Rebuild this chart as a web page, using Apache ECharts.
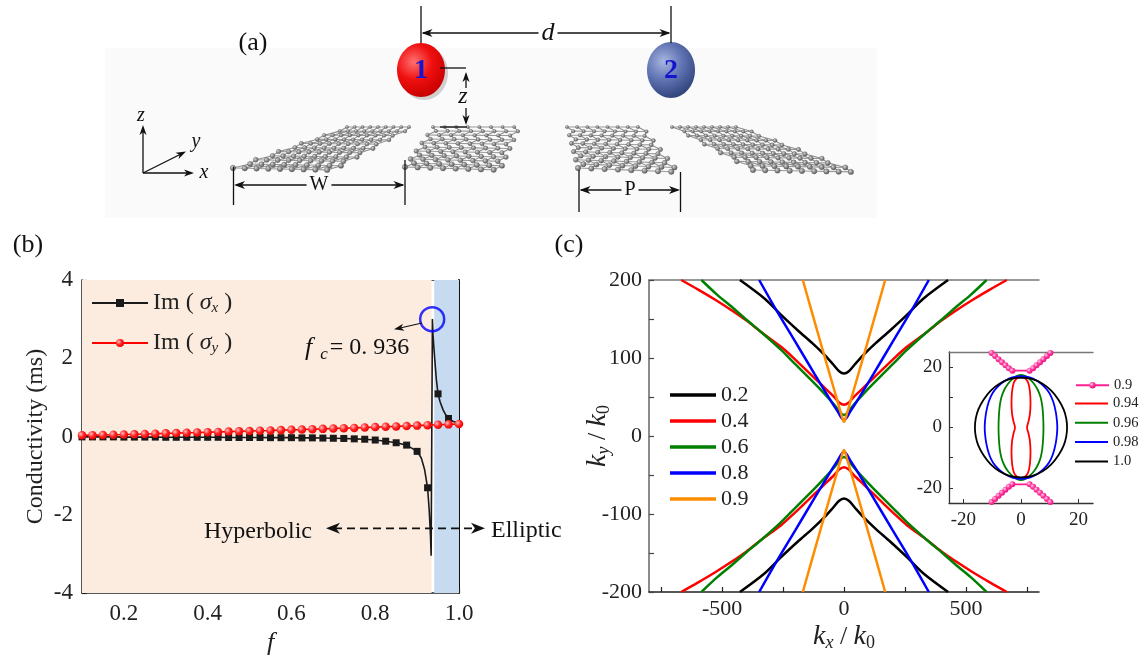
<!DOCTYPE html>
<html>
<head>
<meta charset="utf-8">
<title>石墨烯条带 电导率与等频线</title>
<script src="https://cdn.jsdelivr.net/npm/echarts@6/dist/echarts.min.js"></script>
<style>
html, body { margin: 0; padding: 0; background: #fff; }
#main { width: 1144px; height: 661px; }
</style>
</head>
<body>
<div id="main"></div>
<script>
var SERIF = "'Liberation Serif', 'Times New Roman', serif";

// ---------- (b) 电导率 vs f ----------
var fGrid = [0.1, 0.125, 0.15, 0.175, 0.2, 0.225, 0.25, 0.275, 0.3, 0.325, 0.35, 0.375, 0.4, 0.425, 0.45, 0.475,
             0.5, 0.525, 0.55, 0.575, 0.6, 0.625, 0.65, 0.675, 0.7, 0.725, 0.75, 0.775, 0.8, 0.825, 0.85, 0.875,
             0.9, 0.925, 0.95, 0.975, 1.0];
var sigmaY = [0.03, 0.035, 0.04, 0.045, 0.05, 0.058, 0.065, 0.072, 0.08, 0.087, 0.095, 0.102, 0.11, 0.118, 0.125, 0.133,
              0.14, 0.148, 0.155, 0.163, 0.17, 0.178, 0.187, 0.195, 0.205, 0.213, 0.22, 0.23, 0.24, 0.25, 0.258, 0.268,
              0.278, 0.29, 0.3, 0.31, 0.32];
// 有方块标记的点
var sigmaXMarked = [[0.1, -0.01], [0.125, -0.01], [0.15, -0.01], [0.175, -0.01], [0.2, -0.015], [0.225, -0.015],
                    [0.25, -0.015], [0.275, -0.015], [0.3, -0.02], [0.325, -0.02], [0.35, -0.02], [0.375, -0.02],
                    [0.4, -0.02], [0.425, -0.02], [0.45, -0.025], [0.475, -0.025], [0.5, -0.025], [0.525, -0.025],
                    [0.55, -0.03], [0.575, -0.03], [0.6, -0.03], [0.625, -0.035], [0.65, -0.035], [0.675, -0.04],
                    [0.7, -0.045], [0.725, -0.05], [0.75, -0.06], [0.775, -0.07], [0.8, -0.09], [0.825, -0.12],
                    [0.85, -0.16], [0.875, -0.22], [0.9, -0.38], [0.925, -1.31], [0.95, 1.09], [0.975, 0.46]];
// 只有曲线、没有标记的点（共振附近）
var sigmaXCurve = [[0.91, -0.55], [0.918, -0.85], [0.929, -1.9], [0.932, -2.55], [0.9335, -3.05], [0.9365, 3.0],
                   [0.938, 2.6], [0.9405, 2.2], [0.943, 1.85], [0.946, 1.45], [0.955, 0.88], [0.962, 0.68],
                   [0.968, 0.56], [0.985, 0.39], [1.0, 0.34]];
var fcPoint = [0.936, 3.0];
var bXLabels = [0.2, 0.4, 0.6, 0.8, 1.0];
var bXTicks = [0.2, 0.3, 0.4, 0.5, 0.6, 0.7, 0.8, 0.9, 1.0];
var bYLabels = [-4, -2, 0, 2, 4];
var bYTicks = [-4, -3, -2, -1, 0, 1, 2, 3, 4];

// ---------- (c) 等频线 ky/k0 vs kx/k0 (上半支右半边) ----------
var curveNames = ['0.2', '0.4', '0.6', '0.8', '0.9'];
var curveColors = ['#000000', '#ff0000', '#008000', '#0000ff', '#ff8c00'];
var kx02 = [0, 20, 45, 80, 130, 188, 257, 325, 427];
var ky02 = [80, 83, 92, 104, 119, 135, 155, 176, 200];
var kx04 = [0, 20, 40, 80, 120, 200, 257, 339, 400, 460, 530, 600, 668];
var ky04 = [40, 43, 50, 62, 74, 98, 114, 133, 148, 161, 175, 188, 200];
var kx06 = [0, 15, 40, 80, 120, 200, 257, 339, 400, 462, 520, 585];
var ky06 = [27, 30, 40, 54, 67, 92, 110, 133, 149, 166, 181, 200];
var kx08 = [0, 12, 25, 50, 120, 200, 277, 348];
var ky08 = [20, 24, 31, 43, 79, 121, 161, 200];
var kx09 = [0, 6, 15, 40, 100, 169];
var ky09 = [18, 22, 32, 59, 124, 200];
var cXLabels = [-500, 0, 500];
var cXTicks = [-750, -500, -250, 0, 250, 500, 750];
var cYLabels = [-200, -100, 0, 100, 200];
var cYTicks = [-200, -150, -100, -50, 0, 50, 100, 150, 200];

// ---------- 插图 ----------
var insetNames = ['0.9', '0.94', '0.96', '0.98', '1.0'];
var insetColors = ['#ff2090', '#ff0000', '#008000', '#0000ff', '#000000'];
var ikx90 = [3, 4.2, 5.4, 6.6, 7.8, 9, 10.2, 11.4];
var iky90 = [18.8, 19.6, 20.6, 21.6, 22.6, 23.7, 24.7, 25.8];
// 四分之一轮廓：从顶点 (0, top) 到 (xmax, 0)
var ikx94 = [0, 1.4, 2.5, 3.1, 3.3, 3.1, 2.6, 2.1];
var iky94 = [16.8, 16.3, 14.8, 12, 8, 4.5, 2, 0];
var ikx96 = [0, 1.5, 3, 4.5, 5.8, 6.8, 7.4, 7.7, 7.8];
var iky96 = [17.4, 17, 16, 14.5, 12.5, 10, 7, 3.5, 0];
var ikx98 = [0, 3, 5.5, 7.8, 9.8, 11.2, 12.1, 12.5, 12.6];
var iky98 = [17, 16.6, 15.5, 13.8, 11.5, 8.5, 5, 2, 0];
var ikx10 = [0, 4, 7.5, 10.5, 13, 14.8, 15.7, 16];
var iky10 = [16.5, 16, 14.5, 12.2, 9.2, 6, 3, 0];
var iTicks = [-20, -10, 0, 10, 20];
var iLabels = [-20, 0, 20];

// 对称：由右半边得到整条支
function branch(xs, ys, sign) {
    var out = [];
    var start = xs[0] === 0 ? 1 : 0;
    for (var i = xs.length - 1; i >= start; i--) out.push([-xs[i], sign * ys[i]]);
    for (var j = 0; j < xs.length; j++) out.push([xs[j], sign * ys[j]]);
    return out;
}
// 由四分之一轮廓得到闭合曲线
function loop(xs, ys) {
    var pts = [], n = xs.length, i;
    for (i = 0; i < n; i++) pts.push([xs[i], ys[i]]);
    for (i = n - 2; i >= 0; i--) pts.push([xs[i], -ys[i]]);
    for (i = 1; i < n; i++) pts.push([-xs[i], -ys[i]]);
    for (i = n - 2; i >= 0; i--) pts.push([-xs[i], ys[i]]);
    return pts;
}

var chart = echarts.init(document.getElementById('main'));

function ballGradient(light, mid, dark) {
    return new echarts.graphic.RadialGradient(0.35, 0.35, 0.75, [
        { offset: 0, color: light }, { offset: 0.5, color: mid }, { offset: 1, color: dark }
    ]);
}

// σx 数据：带标记和不带标记的点合并
var sigmaXData = [];
sigmaXMarked.forEach(function (p) { sigmaXData.push({ value: p }); });
sigmaXCurve.forEach(function (p) { sigmaXData.push({ value: p, symbol: 'none' }); });
sigmaXData.sort(function (a, b) { return a.value[0] - b.value[0]; });

var sigmaYData = fGrid.map(function (f, i) { return [f, sigmaY[i]]; });

function valueAxis(o) {
    return Object.assign({
        type: 'value',
        nameMoveOverlap: false,
        splitLine: { show: false },
        axisLine: { show: true, onZero: false, lineStyle: { color: '#222', width: 1.5 } },
        axisTick: { show: false },
        axisLabel: { show: false }
    }, o);
}

var series = [];

// (b) 背景色块
series.push({
    type: 'line', xAxisIndex: 0, yAxisIndex: 0, data: [[0.1, 0]], showSymbol: false, symbol: 'none', silent: true, z: 1,
    lineStyle: { width: 0, opacity: 0 },
    markArea: {
        silent: true,
        data: [
            [{ xAxis: 0.1, itemStyle: { color: '#fcebdf' } }, { xAxis: 0.9345 }],
            [{ xAxis: 0.9408, itemStyle: { color: '#c6dbf0' } }, { xAxis: 1.0 }]
        ]
    }
});
series.push({
    name: 'sx', type: 'line', xAxisIndex: 0, yAxisIndex: 0, data: sigmaXData, z: 3,
    symbol: 'rect', symbolSize: 7, itemStyle: { color: '#1a1a1a' },
    lineStyle: { color: '#1a1a1a', width: 1.6 }
});
series.push({
    name: 'sy', type: 'line', xAxisIndex: 0, yAxisIndex: 0, data: sigmaYData, z: 4,
    symbol: 'circle', symbolSize: 8.5,
    itemStyle: { color: ballGradient('#ffc0c0', '#ff2020', '#e00000') },
    lineStyle: { color: '#ff0000', width: 1.6 }
});
series.push({
    type: 'scatter', xAxisIndex: 0, yAxisIndex: 0, data: [fcPoint], z: 5, silent: true,
    symbol: 'circle', symbolSize: 24,
    itemStyle: { color: 'rgba(0,0,0,0)', borderColor: '#0000ff', borderWidth: 2.5 }
});

// (c) 主图曲线
var cData = [[kx02, ky02], [kx04, ky04], [kx06, ky06], [kx08, ky08], [kx09, ky09]];
cData.forEach(function (d, i) {
    [1, -1].forEach(function (s) {
        series.push({
            name: curveNames[i], type: 'line', xAxisIndex: 2, yAxisIndex: 2,
            data: branch(d[0], d[1], s), symbol: 'none', smooth: 0.3,
            lineStyle: { color: curveColors[i], width: 2.5 }, itemStyle: { color: curveColors[i] }
        });
    });
});

// 插图
[1, -1].forEach(function (s) {
    series.push({
        name: 'i0.9', type: 'line', xAxisIndex: 4, yAxisIndex: 3,
        data: branch(ikx90, iky90, s), symbol: 'circle', symbolSize: 6,
        lineStyle: { color: insetColors[0], width: 1.8 },
        itemStyle: { color: ballGradient('#ffd0e8', '#ff3399', '#e0107a') }
    });
});
var loops = [[ikx94, iky94], [ikx96, iky96], [ikx98, iky98], [ikx10, iky10]];
loops.forEach(function (d, i) {
    series.push({
        name: 'i' + insetNames[i + 1], type: 'line', xAxisIndex: 4, yAxisIndex: 3,
        data: loop(d[0], d[1]), symbol: 'none', smooth: 0.35,
        lineStyle: { color: insetColors[i + 1], width: 1.8 }, itemStyle: { color: insetColors[i + 1] }
    });
});

// ---------- graphic：(a) 示意图与注释 ----------
var g = [];
function gLine(x1, y1, x2, y2, st, z) {
    g.push({ type: 'line', z: z || 100, shape: { x1: x1, y1: y1, x2: x2, y2: y2 },
        style: Object.assign({ stroke: '#111', lineWidth: 1.3 }, st || {}) });
}
function gHead(x, y, ang, len, half) {
    var c = Math.cos(ang), s = Math.sin(ang);
    var bx = x - c * len, by = y - s * len;
    g.push({ type: 'polygon', z: 101, shape: { points: [
        [x, y], [bx - s * half, by + c * half], [x - c * len * 0.72, y - s * len * 0.72], [bx + s * half, by - c * half]
    ] }, style: { fill: '#111' } });
}
function gText(x, y, str, st, z) {
    g.push({ type: 'text', x: x, y: y, z: z || 102, style: Object.assign({
        text: str, fontFamily: SERIF, fontSize: 24, fill: '#111',
        align: 'center', verticalAlign: 'middle', textAlign: 'center', textVerticalAlign: 'middle'
    }, st || {}) });
}

// 面板标签
gText(253, 43, '(a)', { fontSize: 26 });
gText(28, 245, '(b)', { fontSize: 26 });
gText(569, 245, '(c)', { fontSize: 26 });

// (a) 背景
g.push({ type: 'rect', z: 10, shape: { x: 105, y: 48, width: 772, height: 170 }, style: { fill: '#fafafa' } });

// 石墨烯条带
function ribbon(FL, FR, BL, BR, nc, nr) {
    var pts = [], r, c;
    for (r = 0; r < nr; r++) {
        var v = r / (nr - 1), row = [];
        for (c = 0; c < nc; c++) {
            var u = (c + (r % 2) * 0.5) / (nc - 0.5);
            var fx = FL[0] + (FR[0] - FL[0]) * u, fy = FL[1] + (FR[1] - FL[1]) * u;
            var bx = BL[0] + (BR[0] - BL[0]) * u, by = BL[1] + (BR[1] - BL[1]) * u;
            row.push([fx + (bx - fx) * v, fy + (by - fy) * v, v]);
        }
        pts.push(row);
    }
    for (r = nr - 1; r >= 0; r--) {
        g.push({ type: 'polyline', z: 20, shape: { points: pts[r].map(function (p) { return [p[0], p[1]]; }) },
            style: { stroke: '#9a9a9a', lineWidth: 1.1, fill: null } });
    }
    for (c = 0; c < nc; c++) {
        var col = [];
        for (r = 0; r < nr; r++) col.push([pts[r][c][0], pts[r][c][1]]);
        g.push({ type: 'polyline', z: 20, shape: { points: col }, style: { stroke: '#8e8e8e', lineWidth: 1.1, fill: null } });
    }
    for (r = nr - 1; r >= 0; r--) {
        pts[r].forEach(function (p) {
            g.push({ type: 'circle', z: 21, shape: { cx: p[0], cy: p[1], r: 2.7 - 1.1 * p[2] },
                style: { fill: ballGradient('#d8d8d8', '#8a8a8a', '#4e4e4e'), stroke: '#555', lineWidth: 0.4 } });
        });
    }
}
ribbon([233, 168], [333, 170], [347, 127], [413, 127], 9, 11);
ribbon([405, 167], [500, 170], [433, 127], [520, 127], 8, 11);
ribbon([578, 168], [678, 172], [567, 127], [643, 127], 8, 11);
ribbon([753, 170], [857, 172], [672, 127], [740, 127], 9, 11);

// 小球
g.push({ type: 'ellipse', z: 30, shape: { cx: 424, cy: 73, rx: 24, ry: 27 }, style: { fill: '#cfcfcf' } });
g.push({ type: 'ellipse', z: 31, shape: { cx: 421, cy: 70, rx: 24, ry: 27 },
    style: { fill: ballGradient('#ff7070', '#f01010', '#c80000') } });
g.push({ type: 'ellipse', z: 31, shape: { cx: 671, cy: 70, rx: 24, ry: 28 },
    style: { fill: ballGradient('#a8b6e0', '#6275b5', '#34467e') } });
gText(421, 71, '1', { fontSize: 28, fontWeight: 'bold', fill: '#1515d0' });
gText(671, 71, '2', { fontSize: 28, fontWeight: 'bold', fill: '#1515d0' });

// d 标注
gLine(421, 6, 421, 43);
gLine(671, 6, 671, 43);
gLine(423, 33, 669, 33);
gHead(421.5, 33, Math.PI, 11, 4);
gHead(670.5, 33, 0, 11, 4);
gText(548, 33, 'd', { fontSize: 26, fontStyle: 'italic', backgroundColor: '#fff', padding: [0, 3] });

// z 标注
gLine(440, 68, 466, 68);
gLine(466, 88, 466, 74);
gHead(466, 72, -Math.PI / 2, 10, 3.5);
gText(463, 97, 'z', { fontSize: 24, fontStyle: 'italic' });
gLine(466, 108, 466, 122);
gHead(466, 125, Math.PI / 2, 10, 3.5);
gLine(440, 127, 467, 127);

// 坐标系图标
gLine(143, 173, 143, 128);
gHead(143, 125, -Math.PI / 2, 10, 3.5);
gText(141, 116, 'z', { fontSize: 20, fontStyle: 'italic' });
gLine(143, 173, 183, 153);
gHead(186, 151.5, Math.atan2(-20, 40), 10, 3.5);
gText(196, 142, 'y', { fontSize: 20, fontStyle: 'italic' });
gLine(143, 173, 190, 173);
gHead(194, 173, 0, 10, 3.5);
gText(204, 173, 'x', { fontSize: 20, fontStyle: 'italic' });

// W 与 P 标注
gLine(233.5, 167, 233.5, 205);
gLine(405, 160, 405, 205);
gLine(236, 185, 403, 185);
gHead(234, 185, Math.PI, 11, 4);
gHead(404.5, 185, 0, 11, 4);
gText(319, 185, 'W', { fontSize: 20, backgroundColor: '#fafafa', padding: [0, 3] });
gLine(579, 170, 579, 212);
gLine(680.5, 172, 680.5, 212);
gLine(581, 190, 678, 190);
gHead(579.5, 190, Math.PI, 11, 4);
gHead(680, 190, 0, 11, 4);
gText(630, 190, 'P', { fontSize: 20, backgroundColor: '#fafafa', padding: [0, 3] });

// (b) 注释
gLine(422, 323, 398, 328.5, { lineWidth: 1.2 });
gHead(394, 329.3, Math.atan2(6, -28), 10, 3.5);
gText(305, 348, '{i|f}{s|c}{n|= 0. 936}', {
    align: 'left', textAlign: 'left', fontSize: 24,
    rich: {
        i: { fontFamily: SERIF, fontSize: 26, fontStyle: 'italic', lineHeight: 30, padding: [0, 8, 0, 0] },
        s: { fontFamily: SERIF, fontSize: 17, fontStyle: 'italic', lineHeight: 8, verticalAlign: 'bottom', padding: [0, 2, 0, 0] },
        n: { fontFamily: SERIF, fontSize: 24, lineHeight: 30 }
    }
});
gText(204, 532, 'Hyperbolic', { align: 'left', textAlign: 'left', fontSize: 24 });
gText(491, 531, 'Elliptic', { align: 'left', textAlign: 'left', fontSize: 24 });
gLine(334, 528.3, 476, 528.3, { lineWidth: 1.8, lineDash: [8, 5] });
gHead(326, 528.3, Math.PI, 14, 5.5);
gHead(485, 528.3, 0, 14, 5.5);

var subRich = {
    i: { fontFamily: SERIF, fontSize: 28, fontStyle: 'italic', lineHeight: 30 },
    s: { fontFamily: SERIF, fontSize: 18, fontStyle: 'italic', lineHeight: 12, verticalAlign: 'bottom' },
    m: { fontFamily: SERIF, fontSize: 18, lineHeight: 12, verticalAlign: 'bottom' },
    n: { fontFamily: SERIF, fontSize: 26, lineHeight: 30 }
};

var legendText = { fontFamily: SERIF, color: '#222' };

var option = {
    backgroundColor: '#ffffff',
    animation: false,
    textStyle: { fontFamily: SERIF },
    grid: [
        { left: 82, top: 280, width: 377, height: 313 },
        { left: 649, top: 280, width: 390, height: 312 },
        { left: 949, top: 352, width: 144, height: 151, show: true, backgroundColor: '#fff', borderWidth: 0 }
    ],
    legend: [
        {
            data: ['sx', 'sy'], orient: 'vertical', left: 91, top: 290, padding: 0,
            itemWidth: 56, itemHeight: 10, itemGap: 14,
            textStyle: Object.assign({
                fontSize: 24, lineHeight: 26,
                rich: {
                    s: { fontFamily: SERIF, fontSize: 24, fontStyle: 'italic', lineHeight: 26 },
                    b: { fontFamily: SERIF, fontSize: 15, fontStyle: 'italic', lineHeight: 10, verticalAlign: 'bottom' }
                }
            }, legendText),
            formatter: function (name) { return 'Im ( {s|σ}{b|' + (name === 'sx' ? 'x' : 'y') + '} )'; }
        },
        {
            data: curveNames, orient: 'vertical', left: 670, top: 384, padding: 0,
            itemWidth: 46, itemHeight: 3.5, itemGap: 4, icon: 'rect',
            textStyle: Object.assign({ fontSize: 22, lineHeight: 22 }, legendText)
        },
        {
            data: ['i0.9'], orient: 'vertical', left: 1075, top: 377.7, padding: 0,
            itemWidth: 33, itemHeight: 8, itemGap: 4.3,
            textStyle: Object.assign({ fontSize: 14.5, lineHeight: 14 }, legendText),
            formatter: function (name) { return name.slice(1); }
        },
        {
            data: insetNames.slice(1).map(function (n) { return 'i' + n; }), orient: 'vertical', left: 1075, top: 396,
            padding: 0, itemWidth: 33, itemHeight: 2, itemGap: 4.3, icon: 'rect',
            textStyle: Object.assign({ fontSize: 14.5, lineHeight: 14 }, legendText),
            formatter: function (name) { return name.slice(1); }
        }
    ],
    xAxis: [
        valueAxis({
            gridIndex: 0, min: 0.1, max: 1.0,
            axisTick: { show: true, inside: true, length: 5, customValues: bXTicks, lineStyle: { color: '#222', width: 1.2 } },
            axisLabel: { show: true, customValues: bXLabels, margin: 9, fontSize: 23, fontFamily: SERIF, color: '#222',
                formatter: function (v) { return v.toFixed(1); } },
            name: 'f', nameLocation: 'middle', nameGap: 37,
            nameTextStyle: { fontFamily: SERIF, fontSize: 26, fontStyle: 'italic', color: '#222' }
        }),
        valueAxis({ gridIndex: 0, position: 'top', min: 0.1, max: 1.0, axisLine: { show: true, onZero: false, lineStyle: { color: '#555', width: 1.2 } } }),
        valueAxis({
            gridIndex: 1, min: -800, max: 800,
            axisTick: { show: true, inside: true, length: 5, customValues: cXTicks, lineStyle: { color: '#222', width: 1.2 } },
            axisLabel: { show: true, customValues: cXLabels, margin: 6, fontSize: 22, fontFamily: SERIF, color: '#222' },
            name: '{i|k}{s|x}{n| / }{i|k}{m|0}', nameLocation: 'middle', nameGap: 30,
            nameTextStyle: { fontFamily: SERIF, fontSize: 26, color: '#222', rich: subRich }
        }),
        valueAxis({ gridIndex: 1, position: 'top', min: -800, max: 800, axisLine: { show: true, onZero: false, lineStyle: { color: '#777', width: 1.5 } } }),
        valueAxis({
            gridIndex: 2, min: -25, max: 25,
            axisLine: { show: true, onZero: false, lineStyle: { color: '#333', width: 1.3 } },
            axisTick: { show: true, inside: true, length: 4, customValues: iTicks, lineStyle: { color: '#333', width: 1 } },
            axisLabel: { show: true, customValues: iLabels, margin: 8, fontSize: 19, fontFamily: SERIF, color: '#222' }
        }),
        valueAxis({ gridIndex: 2, position: 'top', min: -25, max: 25, axisLine: { show: true, onZero: false, lineStyle: { color: '#777', width: 1.3 } } })
    ],
    yAxis: [
        valueAxis({
            gridIndex: 0, min: -4, max: 4,
            axisTick: { show: true, inside: true, length: 5, customValues: bYTicks, lineStyle: { color: '#222', width: 1.2 } },
            axisLabel: { show: true, customValues: bYLabels, margin: 9, fontSize: 23, fontFamily: SERIF, color: '#222' },
            name: 'Conductivity (ms)', nameLocation: 'middle', nameGap: 34, nameRotate: 90,
            nameTextStyle: { fontFamily: SERIF, fontSize: 24, color: '#222' }
        }),
        valueAxis({ gridIndex: 0, position: 'right', min: -4, max: 4, axisLine: { show: true, onZero: false, lineStyle: { color: '#111', width: 2 } } }),
        valueAxis({
            gridIndex: 1, min: -200, max: 200,
            axisLine: { show: true, onZero: false, lineStyle: { color: '#666', width: 1.5 } },
            axisTick: { show: true, inside: true, length: 5, customValues: cYTicks, lineStyle: { color: '#444', width: 1.2 } },
            axisLabel: { show: true, customValues: cYLabels, margin: 7, fontSize: 22, fontFamily: SERIF, color: '#222' },
            name: '{i|k}{s|y}{n| / }{i|k}{m|0}', nameLocation: 'middle', nameGap: 36, nameRotate: 90,
            nameTextStyle: { fontFamily: SERIF, fontSize: 26, color: '#222', rich: subRich }
        }),
        valueAxis({
            gridIndex: 2, min: -25, max: 25,
            axisLine: { show: true, onZero: false, lineStyle: { color: '#333', width: 1.3 } },
            axisTick: { show: true, inside: true, length: 4, customValues: iTicks, lineStyle: { color: '#333', width: 1 } },
            axisLabel: { show: true, customValues: iLabels, margin: 7, fontSize: 19, fontFamily: SERIF, color: '#222' }
        })
    ],
    graphic: { elements: g },
    series: series
};

chart.setOption(option);
window.onresize = function () { chart.resize(); };
</script>
</body>
</html>
